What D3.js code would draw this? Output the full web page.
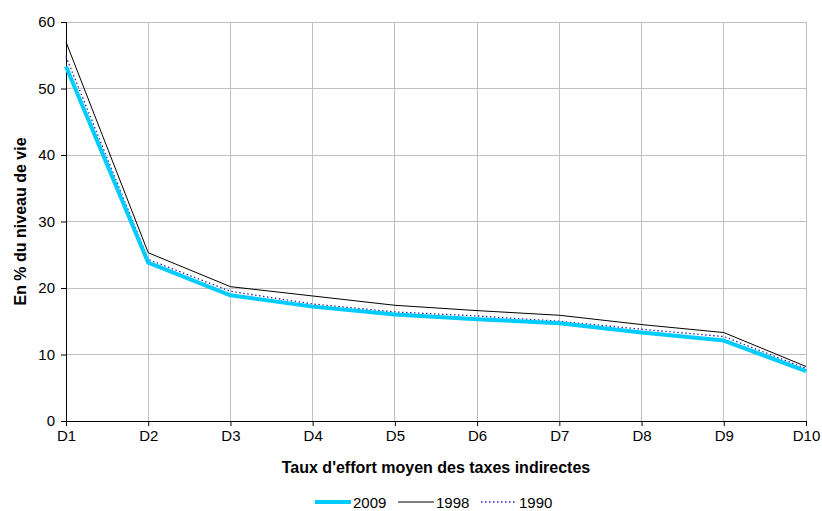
<!DOCTYPE html>
<html><head><meta charset="utf-8">
<script src="https://cdn.jsdelivr.net/npm/d3@7"></script>
<style>body{margin:0;background:#fff;}svg{display:block;font-family:"Liberation Sans",Arial,sans-serif;}</style>
</head><body>
<svg id="c" width="822" height="511"></svg>
<script>
const categories = ["D1","D2","D3","D4","D5","D6","D7","D8","D9","D10"];
const s2009 = [53.3, 23.8, 18.9, 17.2, 16.0, 15.3, 14.7, 13.3, 12.1, 7.5];
const s1998 = [57.0, 25.3, 20.2, 18.8, 17.4, 16.6, 15.9, 14.5, 13.3, 8.2];
const s1990 = [54.8, 24.3, 19.5, 17.6, 16.4, 15.8, 15.0, 13.8, 12.7, 7.9];
const yTicks = [0,10,20,30,40,50,60];
const seriesNames = ["2009","1998","1990"];

const svg = d3.select("#c");
const L = 66, R = 806, T = 22, B = 421;
const x = d3.scalePoint().domain(categories).range([L, R]);
const y = d3.scaleLinear().domain([0, 60]).range([B, T]);

// grid
svg.append("g").selectAll("line").data(yTicks.filter(d=>d>0)).join("line")
  .attr("x1", L).attr("x2", R).attr("y1", d=>y(d)).attr("y2", d=>y(d))
  .attr("stroke", "#c0c0c0").attr("stroke-width", 1).attr("shape-rendering","crispEdges");
svg.append("g").selectAll("line").data(categories.slice(1)).join("line")
  .attr("x1", d=>x(d)).attr("x2", d=>x(d)).attr("y1", T).attr("y2", B)
  .attr("stroke", "#c0c0c0").attr("stroke-width", 1).attr("shape-rendering","crispEdges");

// axes
const yAxis = svg.append("g").attr("transform", `translate(${L},0)`)
  .call(d3.axisLeft(y).tickValues(yTicks).tickSize(5).tickPadding(6));
const xAxis = svg.append("g").attr("transform", `translate(0,${B})`)
  .call(d3.axisBottom(x).tickSize(5).tickPadding(4));
[yAxis, xAxis].forEach(a => {
  a.select(".domain").attr("stroke", "#000");
  a.selectAll(".tick line").attr("stroke", "#000");
  a.selectAll("text").attr("font-size", 15).attr("fill", "#000")
   .attr("font-family", '"Liberation Sans",Arial,sans-serif');
});

// lines
const line = d3.line().x((d,i)=>x(categories[i])).y(d=>y(d));
svg.append("path").datum(s1990).attr("d", line).attr("fill","none")
  .attr("stroke","#2a2ab8").attr("stroke-width",1.3).attr("stroke-dasharray","1.5,2.5");
svg.append("path").datum(s2009).attr("d", line).attr("fill","none")
  .attr("stroke","#00ccff").attr("stroke-width",4).attr("stroke-linejoin","round");
svg.append("path").datum(s1998).attr("d", line).attr("fill","none")
  .attr("stroke","#000").attr("stroke-width",1);

// titles
svg.append("text").attr("x", 436).attr("y", 473).attr("text-anchor","middle")
  .attr("font-size", 16).attr("font-weight","bold").text("Taux d'effort moyen des taxes indirectes");
svg.append("text").attr("transform", `translate(26,${(T+B)/2}) rotate(-90)`).attr("text-anchor","middle")
  .attr("font-size", 16).attr("font-weight","bold").text("En % du niveau de vie");

// legend
const leg = [
  {name: seriesNames[0], x0: 315, color:"#00ccff", w:4, dash:null},
  {name: seriesNames[1], x0: 398, color:"#000", w:1, dash:null},
  {name: seriesNames[2], x0: 481, color:"#2a2ab8", w:1.3, dash:"1.5,2.5"}
];
const lg = svg.append("g");
leg.forEach(d => {
  lg.append("line").attr("x1", d.x0).attr("x2", d.x0+36).attr("y1", 502).attr("y2", 502)
    .attr("stroke", d.color).attr("stroke-width", d.w).attr("stroke-dasharray", d.dash);
  lg.append("text").attr("x", d.x0+38).attr("y", 507.5).attr("font-size", 15).text(d.name);
});
</script>
</body></html>
